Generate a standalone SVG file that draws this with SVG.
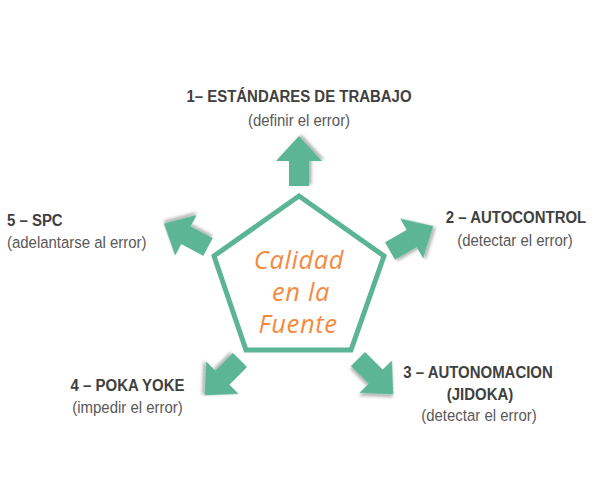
<svg xmlns="http://www.w3.org/2000/svg" width="600" height="500" viewBox="0 0 600 500">
  <defs>
    <filter id="shadow" x="-30%" y="-30%" width="160%" height="160%">
      <feDropShadow dx="1.5" dy="2.5" stdDeviation="1.5" flood-color="#000" flood-opacity="0.3"/>
    </filter>
    <path id="arrow" d="M0,-10 L25,-10 L25,-23 L50,0 L25,23 L25,10 L0,10 Z"/>
  </defs>
  <style>
    .arr { fill: #5BB595; filter: url(#shadow); }
    .title { font-family: "Liberation Sans", Arial, sans-serif; font-weight: bold; font-size: 17px; fill: #404040; }
    .sub { font-family: "Liberation Sans", Arial, sans-serif; font-size: 17px; fill: #595959; }
    .center { font-family: "Open Sans", "DejaVu Sans", sans-serif; font-style: italic; font-size: 25.5px; fill: #F58A3E; text-anchor: middle; letter-spacing: 0.6px; }
    .mid { text-anchor: middle; }
  </style>
  <rect width="600" height="500" fill="#ffffff"/>

  <g id="connectors">
    <use href="#arrow" class="arr" transform="translate(299,186) rotate(-90)"/>
    <use href="#arrow" class="arr" transform="translate(390,251) rotate(-30)"/>
    <use href="#arrow" class="arr" transform="translate(358,359) rotate(45)"/>
    <use href="#arrow" class="arr" transform="translate(240,360) rotate(135)"/>
    <use href="#arrow" class="arr" transform="translate(208,247) rotate(208)"/>
  </g>

  <g id="center">
    <polygon points="299,196 384,256 351,350 246,350 214,256" fill="#ffffff" stroke="#5BB595" stroke-width="5" stroke-linejoin="miter"/>
    <text class="center" x="299" y="269">Calidad</text>
    <text class="center" x="301" y="301">en la</text>
    <text class="center" x="298" y="333">Fuente</text>
  </g>

  <g id="node1">
    <text class="title mid" transform="translate(299,102) scale(0.88,1)">1– ESTÁNDARES DE TRABAJO</text>
    <text class="sub mid" transform="translate(299,126) scale(0.88,1)">(definir el error)</text>
  </g>
  <g id="node2">
    <text class="title mid" transform="translate(516,223) scale(0.88,1)">2 – AUTOCONTROL</text>
    <text class="sub mid" transform="translate(515,246) scale(0.88,1)">(detectar el error)</text>
  </g>
  <g id="node3">
    <text class="title mid" transform="translate(478,378) scale(0.88,1)">3 – AUTONOMACION</text>
    <text class="title mid" transform="translate(480,400) scale(0.88,1)">(JIDOKA)</text>
    <text class="sub mid" transform="translate(479,421) scale(0.88,1)">(detectar el error)</text>
  </g>
  <g id="node4">
    <text class="title mid" transform="translate(127.5,391) scale(0.88,1)">4 – POKA YOKE</text>
    <text class="sub mid" transform="translate(127.5,413) scale(0.88,1)">(impedir el error)</text>
  </g>
  <g id="node5">
    <text class="title" transform="translate(7,226) scale(0.88,1)">5 – SPC</text>
    <text class="sub" transform="translate(7,248) scale(0.88,1)">(adelantarse al error)</text>
  </g>
</svg>
